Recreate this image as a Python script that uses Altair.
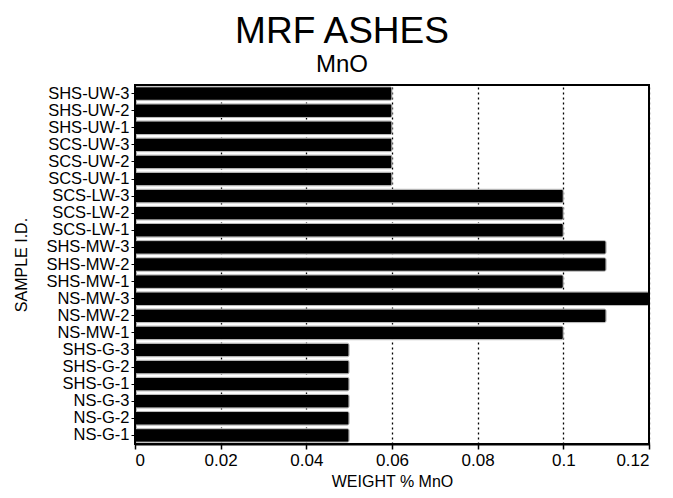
import altair as alt
import pandas as pd

samples = ["SHS-UW-3", "SHS-UW-2", "SHS-UW-1", "SCS-UW-3", "SCS-UW-2", "SCS-UW-1",
           "SCS-LW-3", "SCS-LW-2", "SCS-LW-1", "SHS-MW-3", "SHS-MW-2", "SHS-MW-1",
           "NS-MW-3", "NS-MW-2", "NS-MW-1", "SHS-G-3", "SHS-G-2", "SHS-G-1",
           "NS-G-3", "NS-G-2", "NS-G-1"]
mno = [0.06, 0.06, 0.06, 0.06, 0.06, 0.06,
       0.10, 0.10, 0.10, 0.11, 0.11, 0.10,
       0.12, 0.11, 0.10, 0.05, 0.05, 0.05,
       0.05, 0.05, 0.05]
x_ticks = [0, 0.02, 0.04, 0.06, 0.08, 0.1, 0.12]

df = pd.DataFrame({"sample": samples, "mno": mno})

FONT = "Liberation Sans"

bars = alt.Chart(df).mark_bar(
    color="black", stroke="#bbbbbb", strokeWidth=1, cornerRadiusEnd=2
).encode(
    x=alt.X("mno:Q", title="WEIGHT % MnO",
            scale=alt.Scale(domain=[0, 0.12], nice=False),
            axis=alt.Axis(values=x_ticks,
                          labelExpr="datum.value == 0 ? '0' : format(datum.value, '.2~f')",
                          grid=True, gridColor="black", gridDash=[2, 3], gridWidth=1.3,
                          labelFontSize=17, labelColor="black", titleFontSize=16,
                          titleFontWeight="normal", titleColor="black", titlePadding=5,
                          tickColor="black", tickSize=5, tickWidth=1.5, domain=True,
                          domainColor="black", domainWidth=2,
                          labelFont=FONT, titleFont=FONT, labelPadding=3)),
    y=alt.Y("sample:N", sort=samples, title="SAMPLE I.D.",
            scale=alt.Scale(paddingInner=0.2, paddingOuter=0.1),
            axis=alt.Axis(labelFontSize=16.5, labelColor="black", labelFont=FONT,
                          titleFontSize=16, titleFontWeight="normal", titleColor="black",
                          titleFont=FONT, titlePadding=16, tickColor="black", tickSize=4,
                          domain=True, domainColor="black", domainWidth=1.5,
                          labelPadding=2)),
)

frame = alt.Chart(pd.DataFrame({"k": [0]})).mark_rect(
    fill=None, stroke="black", strokeWidth=2
).encode(
    x=alt.value(0), x2=alt.value("width"), y=alt.value(0), y2=alt.value("height")
)

chart = alt.layer(bars, frame).properties(
    width=514, height=359, background="white",
    title=alt.TitleParams(text="MRF ASHES", subtitle="MnO", fontSize=37,
                          fontWeight="normal", font=FONT, color="black",
                          subtitleFontSize=24, subtitleFont=FONT, subtitleColor="black",
                          subtitlePadding=2, anchor="middle", offset=6, dx=-50),
).configure_view(stroke="black", strokeWidth=2)

chart.save("out.html", embed_options={"renderer": "svg", "actions": False})
